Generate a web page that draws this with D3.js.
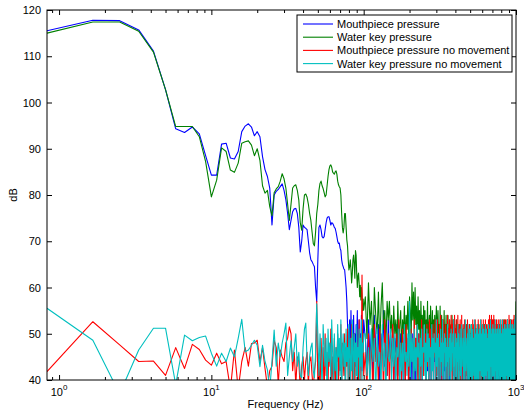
<!DOCTYPE html>
<html>
<head>
<meta charset="utf-8">
<script src="https://cdn.jsdelivr.net/npm/d3@7"></script>
<style>
  body { margin: 0; background: #fff; }
  text { font-family: "Liberation Sans", Arial, Helvetica, sans-serif; fill: #000; }
</style>
</head>
<body>
<svg id="chart" width="524" height="414"></svg>
<script>
// FFT bin spacing (Hz) and the bins shown: every bin up to 100 Hz, every third bin above
const binWidth = 1000 / 1200;
const lowBins = d3.range(1, 121);
const highBins = d3.range(123, 1201, 3);

const seriesNames = [
  "Mouthpiece pressure",
  "Water key pressure",
  "Mouthpiece pressure no movement",
  "Water key pressure no movement"
];
const seriesColors = ["#0000ff", "#008000", "#ff0000", "#00bfbf"];

const yTicks = [40, 50, 60, 70, 80, 90, 100, 110, 120];
const xMajorTicks = [1, 10, 100, 1000];
const xMajorLabels = [["10", "0"], ["10", "1"], ["10", "2"], ["10", "3"]];

// Mouthpiece pressure (dB), bins 1..120
const mouthLow = [
  115.5,117.8,117.7,115.7,111.1,102.8,94.3,93.5,94.7,93.2,
  88.5,84.3,84.3,91.0,91.2,88.0,87.8,89.4,93.7,94.9,
  95.4,94.7,92.8,93.7,92.6,88.3,85.5,84.0,81.5,73.5,
  80.0,80.8,81.2,81.8,82.4,81.0,79.0,76.0,72.5,74.5,
  76.4,77.0,77.1,76.0,73.0,67.7,70.0,73.5,73.0,72.8,
  72.5,70.0,67.5,66.0,65.6,65.0,64.5,60.0,57.0,66.0,
  73.0,73.5,72.5,71.0,70.7,71.0,72.5,74.0,75.0,75.3,
  75.3,74.5,73.5,74.0,73.9,73.5,73.0,72.8,72.0,71.0,
  70.0,69.5,69.6,68.5,68.0,66.0,65.0,64.5,64.0,63.8,
  62.0,60.0,57.0,52.0,49.0,45,53,42,55,47,
  51,40,54,46,50,43,52,48,55,41,
  49,53,44,50,46,54,42,51,47,53
];
// Mouthpiece pressure (dB), bins 123..1200 step 3
const mouthHigh = [
  49,42,53,45,51,40,54,47,44,52,39,50,46,55,43,48,41,53,45,50,
  44,51,38,49,46,52,41,48,43,50,39,47,45,51,40,49,44,48,37,50,
  42,48,38,50,44,47,36,49,41,46,43,50,37,48,45,49,39,47,42,50,
  44,49,37,48,42,50,39,47,45,49,38,50,43,46,40,49,44,48,36,50,
  41,47,44,50,38,49,43,48,37,50,45,47,40,49,42,50,39,48,44,47,
  38,50,43,48,45,49,37,47,42,50,44,48,39,49,41,47,45,50,38,49,
  43,48,40,50,44,47,38,49,42,48,45,50,37,47,43,49,40,48,44,50,
  39,49,45,48,41,50,38,47,44,49,42,48,37,50,45,47,40,49,43,48,
  44,50,38,48,42,49,45,47,39,50,43,48,41,49,37,47,44,50,42,48,
  40,48,45,49,37,50,43,47,44,48,39,49,42,50,45,47,38,48,43,49,
  45,49,39,47,42,50,44,48,38,49,41,47,45,50,40,48,43,49,37,47,
  41,50,44,48,38,49,45,47,40,50,43,48,37,49,44,47,42,50,39,48,
  43,47,40,49,45,48,38,50,42,47,44,49,39,48,41,50,45,47,37,49,
  38,49,44,50,41,47,43,48,45,49,37,50,42,48,40,47,44,49,39,50,
  44,48,39,49,42,50,45,47,38,48,43,49,40,50,44,47,41,48,37,49,
  42,50,45,47,38,49,44,48,40,50,37,47,43,49,45,48,39,50,42,47,
  39,48,43,49,45,50,40,47,44,48,38,49,42,50,37,47,45,48,41,49,
  45,47,38,50,43,48,41,49,44,47,39,50,42,48,45,49,40,47,43,50
];

// Water key pressure (dB), bins 1..120
const waterLow = [
  115.0,117.4,117.4,115.4,110.9,102.8,94.8,94.8,94.8,92.6,
  87.2,79.6,83.2,90.2,89.4,85.4,84.9,86.9,91.2,91.5,
  91.7,90.8,88.5,90.0,87.5,82.0,80.4,81.0,77.5,75.5,
  80.5,81.3,81.8,83.0,84.6,83.5,81.5,78.0,74.5,78.0,
  81.5,82.0,82.2,81.0,78.9,74.0,72.4,77.0,80.0,80.2,
  79.5,78.0,76.0,74.5,72.0,69.5,69.0,72.0,76.0,78.0,
  81.0,82.5,83.0,82.0,81.4,80.5,79.6,80.0,82.0,84.0,
  85.5,86.3,86.5,86.0,85.0,84.7,84.5,85.0,85.2,84.5,
  83.0,82.2,81.8,81.5,80.0,76.0,73.0,71.8,73.0,76.0,
  76.0,73.0,70.3,69.0,66.0,63.8,64.5,66.0,64.0,61.0,
  63.0,66.0,67.0,65.0,62.0,68.0,67.0,63.0,60.0,62.5,
  63.1,61.0,58.0,60.5,57.3,60.0,58.5,55.0,57.5,55.1
];
// Water key pressure (dB), bins 123..1200 step 3
const waterHigh = [
  58,49,61,52,57,46,60,54,50,59,47,56,61,51,55,48,57,53,57,50,
  54,47,56,50,53,45,57,49,52,55,46,53,50,56,48,54,51,57,47,58,
  55,49,61,53,59,50,60,52,56,48,58,51,55,47,57,50,54,46,56,52,
  55,48,53,50,57,46,52,54,49,56,51,47,55,50,53,45,54,49,52,56,
  53,47,55,50,52,46,56,49,51,54,45,53,50,48,55,47,52,50,54,46,
  52,46,54,49,51,44,53,48,50,52,45,54,47,51,49,53,46,50,52,47,
  51,45,53,48,50,44,52,47,49,51,43,50,48,52,46,49,51,45,50,48,
  51,44,52,47,49,43,50,46,52,48,45,51,47,49,44,50,48,52,46,49,
  50,45,52,47,49,43,51,46,48,50,44,49,47,52,45,48,50,46,49,47,
  51,44,50,47,49,45,52,46,48,50,43,49,47,51,45,48,50,44,49,52,
  48,45,51,47,49,44,50,46,52,48,43,49,47,50,45,51,48,46,50,47,
  49,44,52,46,48,45,50,47,51,49,43,48,46,50,45,52,47,49,44,51,
  50,46,49,44,52,47,48,45,51,49,46,50,44,48,52,46,49,45,51,48,
  47,50,44,51,48,46,52,45,49,47,50,43,51,48,46,49,52,45,48,50,
  46,51,48,44,50,47,52,45,49,48,51,44,50,46,53,47,49,45,51,48,
  50,45,52,47,49,44,51,48,46,50,53,45,49,47,51,44,50,48,52,46,
  49,46,51,45,50,48,53,44,49,47,52,46,50,45,51,48,49,46,52,47,
  50,46,52,48,51,45,53,47,50,49,52,46,51,48,54,47,52,50,55,57
];

// Mouthpiece pressure, no movement (dB), bins 1..120
const mouthStillLow = [
  41.8,52.6,47.6,44.0,44.1,41.0,47.0,42.5,47.7,46.6,
  44.3,43.2,45.8,43.5,44.0,38.0,46.5,38.0,44.0,47.0,
  43.0,47.9,48.0,48.6,44.0,47.0,42.5,38.5,42.0,43.0,
  48.6,47.0,39.0,46.5,45.0,44.0,48.0,49.0,51.5,50.0,
  42.0,46.0,39.0,45.0,44.0,38.0,43.0,45.0,40.0,44.0,
  46.0,39.0,44.0,45.0,41.0,38.0,42.0,44.0,57.0,39.0,
  44,37,49,42,47,36,50,41,46,39,
  48,43,51,38,45,40,49,36,47,44,
  50,39,46,42,52,37,48,44,41,50,
  38,47,43,51,40,46,36,49,45,52,
  39,47,42,50,37,48,44,51,41,46,
  38,53,43,49,40,47,62.7,45,50,41
];
// Mouthpiece pressure, no movement (dB), bins 123..1200 step 3
const mouthStillHigh = [
  46,38,50,42,48,36,52,44,47,39,51,43,49,37,53,45,41,50,38,48,
  44,52,39,47,41,50,37,53,45,48,40,51,43,46,38,52,44,49,36,50,
  42,51,45,48,38,53,44,49,40,52,37,50,46,47,39,53,43,51,41,48,
  45,50,38,52,43,49,36,53,46,51,40,48,44,52,37,50,45,53,39,49,
  41,53,46,50,38,52,44,54,40,49,45,51,37,53,43,50,46,52,39,48,
  44,54,39,51,46,53,41,50,37,54,45,52,40,53,43,49,46,54,38,51,
  42,53,45,50,39,54,44,51,37,52,46,53,40,49,43,54,38,50,45,52,
  40,51,44,53,38,50,46,52,41,49,37,53,45,51,43,50,39,52,44,48,
  46,50,38,52,43,51,40,53,45,49,37,52,44,50,41,53,39,51,46,49,
  38,52,45,50,41,53,44,49,37,51,46,52,40,50,43,53,39,48,45,51,
  43,51,39,53,46,50,38,52,44,49,41,53,45,50,37,52,43,51,46,49,
  40,52,45,53,38,51,44,54,42,50,46,53,39,52,43,54,45,50,38,53,
  44,53,41,52,46,54,39,50,45,53,37,51,43,52,46,50,40,53,44,51,
  39,52,45,50,42,53,46,51,38,52,44,49,41,53,45,50,37,52,43,51,
  46,50,40,53,44,51,38,52,45,49,42,53,39,51,46,50,43,52,37,53,
  42,51,45,53,39,50,44,52,46,49,38,53,43,51,45,50,40,52,44,54,
  38,52,46,50,43,53,40,51,45,49,37,52,44,53,41,50,46,52,39,51,
  45,53,41,50,44,52,38,54,46,51,43,53,40,52,45,50,42,53,46,52
];

// Water key pressure, no movement (dB), bins 1..120
const waterStillLow = [
  55.5,48.6,37.0,46.5,51.2,51.2,39.0,49.7,48.5,49.2,
  49.5,45.8,43.0,45.8,44.0,46.9,45.0,49.0,53.1,46.1,
  46.5,47.5,48.6,47.5,42.9,47.5,44.0,42.2,38.0,44.0,
  50.8,43.0,48.0,45.0,48.0,50.0,52.3,41.0,45.0,48.5,
  44.0,47.0,50.0,43.0,46.0,41.0,40.5,47.0,51.0,52.3,
  44.0,41.0,45.0,47.0,48.0,42.0,40.5,46.0,56.5,50.0,
  41,50,45,38,52,47,43,49,36,51,
  44,48,40,53,46,39,50,42,47,37,
  52,45,49,41,53,38,46,50,43,48,
  36,51,44,47,40,52,45,39,49,42,
  53,46,37,50,44,48,41,52,38,47,
  45,51,39,49,43,53,40,48,46,50
];
// Water key pressure, no movement (dB), bins 123..1200 step 3
const waterStillHigh = [
  50,41,47,38,51,44,49,36,51,43,46,39,52,42,48,37,50,45,44,51,
  40,49,43,50,38,47,45,51,36,48,42,48,39,52,44,46,41,50,43,57,
  38,50,44,49,37,51,42,47,40,52,45,48,36,49,43,51,39,47,46,52,
  41,48,37,51,44,50,39,49,45,47,38,52,42,49,36,50,46,48,40,53,
  43,49,38,50,45,47,37,51,44,48,41,53,39,48,46,50,36,49,43,47,
  40,52,44,47,38,49,45,50,37,51,42,48,46,50,39,53,43,47,36,50,
  45,49,38,48,44,52,40,50,37,47,46,51,41,49,39,52,43,47,45,49,
  38,51,44,48,36,53,42,49,46,47,39,50,43,52,37,48,45,51,40,49,
  44,50,38,52,46,48,37,51,41,49,45,47,39,53,43,50,36,48,46,51,
  40,49,44,52,38,50,45,48,37,51,42,49,46,53,39,47,44,50,41,51,
  37,52,45,48,40,51,43,49,38,50,46,52,41,47,44,51,36,49,45,48,
  42,50,38,52,46,49,39,51,44,47,37,53,43,50,45,48,40,51,38,49,
  46,52,41,48,44,51,37,50,45,49,39,53,42,47,46,51,38,50,43,49,
  40,51,45,48,37,52,43,50,46,47,39,51,44,49,41,53,36,48,45,50,
  43,49,38,51,46,53,40,48,44,50,37,51,45,49,42,52,39,47,46,51,
  38,50,44,52,41,48,46,51,37,49,43,53,45,47,39,51,44,50,40,52,
  45,48,37,51,43,49,46,53,39,50,44,47,41,51,38,52,45,49,42,50,
  39,52,45,49,37,51,44,50,46,48,40,53,43,49,38,51,45,54,41,52
];

const seriesValues = [
  mouthLow.concat(mouthHigh),
  waterLow.concat(waterHigh),
  mouthStillLow.concat(mouthStillHigh),
  waterStillLow.concat(waterStillHigh)
];
const freqs = lowBins.concat(highBins).map(k => k * binWidth);

// ---- layout ----
const svg = d3.select("#chart");
const plot = { left: 47, right: 516, top: 10, bottom: 380 };

const x = d3.scaleLog().domain([binWidth, 1000]).range([plot.left, plot.right]);
const y = d3.scaleLinear().domain([40, 120]).range([plot.bottom, plot.top]);

svg.append("defs").append("clipPath").attr("id", "plot-clip")
  .append("rect")
  .attr("x", plot.left).attr("y", plot.top)
  .attr("width", plot.right - plot.left).attr("height", plot.bottom - plot.top);

// ---- traces ----
const line = d3.line().x(d => x(d[0])).y(d => y(d[1]));
const traces = svg.append("g").attr("clip-path", "url(#plot-clip)");
seriesValues.forEach((vals, i) => {
  const pts = vals.map((v, j) => [freqs[j], v]).filter(d => d[0] !== undefined);
  traces.append("path")
    .attr("d", line(pts))
    .attr("fill", "none")
    .attr("stroke", seriesColors[i])
    .attr("stroke-width", 1.1)
    .attr("stroke-linejoin", "round");
});

// ---- axes (inward ticks on all four sides) ----
const xMinorTicks = [];
[0.1, 1, 10, 100].forEach(dec => {
  for (let m = 2; m <= 9; m++) {
    const v = dec * m;
    if (v >= binWidth && v <= 1000) xMinorTicks.push(v);
  }
});

function styleAxis(g) {
  g.select(".domain").remove();
  g.selectAll(".tick line").attr("stroke", "#000").attr("stroke-width", 1);
  g.selectAll(".tick text").attr("font-size", 11).attr("fill", "#000")
    .style("font-family", "'Liberation Sans', Arial, sans-serif");
}

svg.append("g").attr("transform", `translate(0,${plot.bottom})`)
  .call(d3.axisBottom(x).tickValues(xMajorTicks).tickSize(-5).tickFormat(""))
  .call(styleAxis);
svg.append("g").attr("transform", `translate(0,${plot.bottom})`)
  .call(d3.axisBottom(x).tickValues(xMinorTicks).tickSize(-3).tickFormat(""))
  .call(styleAxis);
svg.append("g").attr("transform", `translate(0,${plot.top})`)
  .call(d3.axisTop(x).tickValues(xMajorTicks).tickSize(-5).tickFormat(""))
  .call(styleAxis);
svg.append("g").attr("transform", `translate(0,${plot.top})`)
  .call(d3.axisTop(x).tickValues(xMinorTicks).tickSize(-3).tickFormat(""))
  .call(styleAxis);

svg.append("g").attr("transform", `translate(${plot.left},0)`)
  .call(d3.axisLeft(y).tickValues(yTicks).tickSize(-5).tickPadding(6).tickFormat(d3.format("d")))
  .call(styleAxis);
svg.append("g").attr("transform", `translate(${plot.right},0)`)
  .call(d3.axisRight(y).tickValues(yTicks).tickSize(-5).tickFormat(""))
  .call(styleAxis);

// power-of-ten labels with superscript exponents
const xLabels = svg.append("g");
xMajorTicks.forEach((v, i) => {
  const t = xLabels.append("text")
    .attr("x", x(v)).attr("y", plot.bottom + 16)
    .attr("text-anchor", "middle")
    .attr("font-size", 11);
  t.append("tspan").text(xMajorLabels[i][0]);
  t.append("tspan").attr("font-size", 8).attr("dy", -6).text(xMajorLabels[i][1]);
});

// plot frame
svg.append("rect")
  .attr("x", plot.left).attr("y", plot.top)
  .attr("width", plot.right - plot.left).attr("height", plot.bottom - plot.top)
  .attr("fill", "none").attr("stroke", "#000").attr("stroke-width", 1);

// axis titles
svg.append("text")
  .attr("x", (plot.left + plot.right) / 2 + 4).attr("y", 408)
  .attr("text-anchor", "middle").attr("font-size", 11)
  .text("Frequency (Hz)");
svg.append("text")
  .attr("transform", `translate(17,${(plot.top + plot.bottom) / 2}) rotate(-90)`)
  .attr("text-anchor", "middle").attr("font-size", 11)
  .text("dB");

// ---- legend ----
const legend = svg.append("g").attr("transform", "translate(297,15)");
legend.append("rect")
  .attr("width", 215).attr("height", 57)
  .attr("fill", "#fff").attr("stroke", "#000").attr("stroke-width", 1);
seriesNames.forEach((name, i) => {
  const cy = 9 + i * 13.2;
  legend.append("line")
    .attr("x1", 6).attr("x2", 36).attr("y1", cy).attr("y2", cy)
    .attr("stroke", seriesColors[i]).attr("stroke-width", 1.1);
  legend.append("text")
    .attr("x", 40).attr("y", cy + 4)
    .attr("font-size", 11)
    .text(name);
});
</script>
</body>
</html>
